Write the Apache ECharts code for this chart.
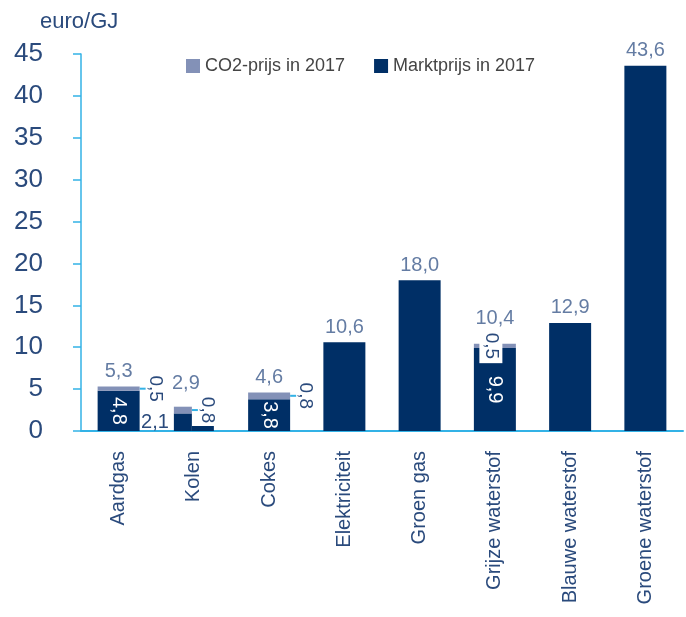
<!DOCTYPE html>
<html>
<head>
<meta charset="utf-8">
<script src="https://cdn.jsdelivr.net/npm/echarts@6/dist/echarts.min.js"></script>
<style>
  html, body { margin: 0; padding: 0; background: #fff; }
  #chart { width: 686px; height: 617px; }
</style>
</head>
<body>
<div id="chart"></div>
<script>
// categorieen en waarden (euro/GJ)
var categories = ['Aardgas', 'Kolen', 'Cokes', 'Elektriciteit', 'Groen gas', 'Grijze waterstof', 'Blauwe waterstof', 'Groene waterstof']
var marktprijs = [4.8, 2.1, 3.8, 10.6, 18.0, 9.9, 12.9, 43.6]
var co2prijs = [0.5, 0.8, 0.8, 0, 0, 0.5, 0, 0]
var totaal = [5.3, 2.9, 4.6, 10.6, 18.0, 10.4, 12.9, 43.6]
var kolenRest = [null, 0.6, null, null, null, null, null, null]
var yTicks = [0, 5, 10, 15, 20, 25, 30, 35, 40, 45]

var NAVY = '#002f66'
var GREY = '#8391b7'
var LINE = '#33b2e6'
var TEXT = '#2a4a7c'
var FONT = 'Liberation Sans'

var kolen = categories.indexOf('Kolen')
var grijs = categories.indexOf('Grijze waterstof')

function fmt(v) {
  return Number(v).toFixed(1).replace('.', ',')
}

// labels naast de balk met een hulplijntje
var sideLabel = {
  show: true,
  position: 'right',
  distance: 6,
  rotate: -90,
  align: 'center',
  verticalAlign: 'bottom',
  color: TEXT,
  fontSize: 19,
  fontFamily: FONT,
  formatter: function(p) { return fmt(p.value) }
}
var sideLine = { show: true, lineStyle: { color: LINE, width: 2 } }

var marktData = marktprijs.map(function(v, i) {
  if (i === kolen) return '-'
  var item = { value: v }
  if (co2prijs[i] > 0) {
    item.label = {
      show: true, position: 'inside', rotate: -90, color: '#fff',
      fontSize: 20, fontFamily: FONT,
      formatter: function(p) { return fmt(p.value) }
    }
  }
  return item
})

var co2Data = co2prijs.map(function(v, i) {
  if (i === kolen || v === 0) return '-'
  var item = { value: v }
  if (i === grijs) {
    item.label = {
      show: true, position: 'inside', rotate: -90, offset: [0, 4],
      align: 'center', verticalAlign: 'middle',
      color: TEXT, fontSize: 19, fontFamily: FONT,
      backgroundColor: '#fff', padding: [2, 4],
      formatter: function(p) { return fmt(p.value) }
    }
  } else {
    item.label = sideLabel
    item.labelLine = sideLine
  }
  return item
})

function only(arr, idx) {
  return arr.map(function(v, i) { return i === idx ? v : '-' })
}

var kolenMarkt = only(marktprijs, kolen)
var kolenCo2 = only(co2prijs, kolen)

var totaalData = totaal.map(function(v, i) {
  var item = { value: v }
  if (i === kolen) item.label = { offset: [-8, -8] }
  if (i === grijs) item.label = { offset: [0, -10] }
  return item
})

var chart = echarts.init(document.getElementById('chart'))
chart.setOption({
  animation: false,
  backgroundColor: '#fff',
  title: {
    text: 'euro/GJ',
    left: 35,
    top: 6,
    textStyle: { color: TEXT, fontSize: 22, fontWeight: 'normal', fontFamily: FONT }
  },
  legend: {
    data: ['CO2-prijs in 2017', 'Marktprijs in 2017'],
    left: 181,
    top: 52,
    icon: 'rect',
    itemWidth: 14,
    itemHeight: 14,
    itemGap: 29,
    textStyle: { color: '#444', fontSize: 18, fontFamily: FONT }
  },
  grid: {
    left: 81,
    right: 3,
    top: 54,
    bottom: 186,
    containLabel: false,
    outerBoundsMode: 'none'
  },
  xAxis: [{
    type: 'category',
    data: categories,
    axisLine: { lineStyle: { color: LINE, width: 2 } },
    axisTick: { show: false },
    axisLabel: {
      rotate: 90,
      margin: 20,
      color: TEXT,
      fontSize: 20,
      fontFamily: FONT
    }
  }, {
    type: 'category',
    data: categories,
    show: false
  }],
  yAxis: {
    type: 'value',
    min: yTicks[0],
    max: yTicks[yTicks.length - 1],
    interval: 5,
    axisLine: { show: true, lineStyle: { color: LINE, width: 1.5 } },
    axisTick: { show: true, length: 8, lineStyle: { color: LINE, width: 1.5 } },
    splitLine: { show: false },
    axisLabel: {
      margin: 38,
      color: TEXT,
      fontSize: 26,
      fontFamily: FONT
    }
  },
  series: [
    {
      name: 'Marktprijs in 2017',
      type: 'bar',
      stack: 'prijs',
      barWidth: 42,
      itemStyle: { color: NAVY },
      data: marktData
    },
    {
      name: 'CO2-prijs in 2017',
      type: 'bar',
      stack: 'prijs',
      barWidth: 42,
      itemStyle: { color: GREY },
      labelLine: { show: false },
      data: co2Data
    },
    // Kolen: smalle gestapelde balk plus losse balk ernaast
    {
      name: 'Kolen markt',
      type: 'bar',
      xAxisIndex: 1,
      stack: 'kolen',
      barWidth: 18,
      barGap: 0,
      itemStyle: { color: NAVY },
      label: {
        show: true, position: 'left', distance: 5,
        color: TEXT, fontSize: 20, fontFamily: FONT,
        formatter: function(p) { return fmt(p.value) }
      },
      labelLine: sideLine,
      data: kolenMarkt
    },
    {
      name: 'Kolen co2',
      type: 'bar',
      xAxisIndex: 1,
      stack: 'kolen',
      barWidth: 18,
      barGap: 0,
      itemStyle: { color: GREY },
      label: sideLabel,
      labelLine: sideLine,
      data: kolenCo2
    },
    {
      name: 'Kolen rest',
      type: 'bar',
      xAxisIndex: 1,
      stack: 'rest',
      barWidth: 22,
      barGap: 0,
      itemStyle: { color: NAVY },
      data: kolenRest
    },
    {
      name: 'Totaal',
      type: 'scatter',
      symbolSize: 0,
      silent: true,
      itemStyle: { color: 'rgba(0,0,0,0)' },
      label: {
        show: true,
        position: 'top',
        distance: 5,
        color: '#3d5b8c',
        fontSize: 20,
        fontFamily: FONT,
        formatter: function(p) { return fmt(p.value) }
      },
      data: totaalData
    }
  ]
})
</script>
</body>
</html>
